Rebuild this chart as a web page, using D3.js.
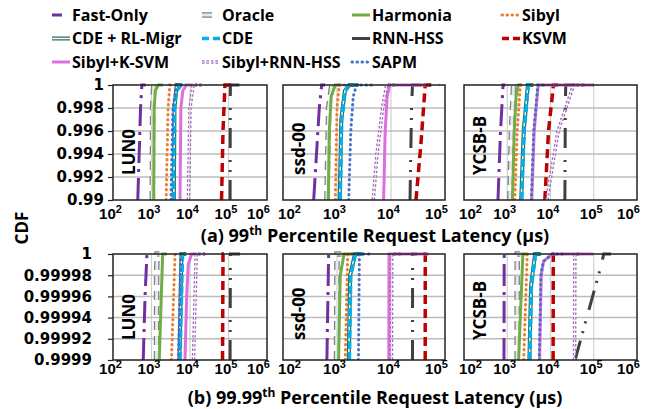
<!DOCTYPE html>
<html>
<head>
<meta charset="utf-8">
<script src="https://cdn.jsdelivr.net/npm/d3@7"></script>
<style>
body { margin: 0; background: #fff; }
svg { font-family: "Open Sans", "Lato", sans-serif; font-weight: bold; }
</style>
</head>
<body>
<script>
const seriesNames = ["Fast-Only", "Oracle", "Harmonia", "Sibyl", "CDE + RL-Migr", "CDE",
  "RNN-HSS", "KSVM", "Sibyl+K-SVM", "Sibyl+RNN-HSS", "SAPM"];
const workloads = ["LUN0", "ssd-00", "YCSB-B"];
const xDomains = [[1e2, 1e6], [1e2, 1e5], [1e2, 1e6]];
const cdfTicksA = [0.99, 0.992, 0.994, 0.996, 0.998, 1];
const cdfLabelsA = ["0.99", "0.992", "0.994", "0.996", "0.998", "1"];
const cdfTicksB = [0.9999, 0.99992, 0.99994, 0.99996, 0.99998, 1];
const cdfLabelsB = ["0.9999", "0.99992", "0.99994", "0.99996", "0.99998", "1"];

// [latency us, cdf] points, one list per series (same order as seriesNames)
const lun0P99 = [
  [[440, 0.99], [520, 0.998], [560, 1], [700, 1]],
  [[1050, 0.99], [1070, 0.998], [1150, 1], [1300, 1]],
  [[1140, 0.99], [1170, 0.998], [1260, 0.9995], [1500, 1], [2000, 1]],
  [[2400, 0.99], [2700, 0.998], [3000, 1], [3500, 1]],
  [[3800, 0.99], [3950, 0.998], [4500, 1], [6000, 1]],
  [[3700, 0.99], [3900, 0.998], [4500, 0.9995], [6000, 1], [8000, 1]],
  [[110000, 0.99], [111000, 0.998], [112000, 1], [200000, 1]],
  [[66000, 0.99], [72000, 0.996], [81000, 1], [150000, 1]],
  [[5500, 0.99], [5800, 0.998], [6500, 0.9995], [8100, 1], [12000, 1]],
  [[9100, 0.99], [10000, 0.998], [12000, 1], [20000, 1]],
  [[3200, 0.99], [3600, 0.998], [4500, 1], [6000, 1]]
];
const ssd00P99 = [
  [[370, 0.99], [470, 0.998], [520, 1], [600, 1]],
  [[650, 0.99], [700, 0.998], [800, 1], [900, 1]],
  [[690, 0.99], [720, 0.996], [780, 0.999], [930, 1], [1200, 1]],
  [[930, 0.99], [1000, 0.998], [1100, 1], [1400, 1]],
  [[1120, 0.99], [1200, 0.997], [1400, 0.9995], [1700, 1], [2500, 1]],
  [[1150, 0.99], [1220, 0.997], [1400, 0.9995], [1650, 1], [2500, 1]],
  [[22500, 0.99], [24000, 0.998], [25000, 1], [80000, 1]],
  [[29000, 0.99], [36000, 0.995], [43000, 1], [60000, 1]],
  [[7300, 0.99], [7800, 0.996], [8500, 0.999], [9500, 1], [45000, 1]],
  [[4700, 0.99], [5500, 0.994], [7000, 0.998], [8300, 1], [12000, 1]],
  [[1650, 0.99], [1800, 0.996], [2000, 0.999], [2300, 1], [5000, 1]]
];
const ycsbP99 = [
  [[610, 0.99], [700, 0.996], [800, 1], [900, 1]],
  [[1150, 0.99], [1250, 0.996], [1400, 1], [1600, 1]],
  [[1320, 0.99], [1450, 0.996], [1600, 0.999], [1800, 1], [2200, 1]],
  [[1500, 0.99], [1700, 0.996], [2000, 1], [2500, 1]],
  [[2100, 0.99], [2400, 0.996], [3000, 1], [4000, 1]],
  [[2150, 0.99], [2450, 0.996], [3050, 1], [4000, 1]],
  [[21500, 0.99], [22000, 0.998], [22500, 1], [100000, 1]],
  [[7400, 0.99], [9000, 0.996], [11700, 1], [15000, 1]],
  [[3700, 0.99], [4200, 0.996], [5200, 1], [100000, 1]],
  [[8200, 0.99], [15000, 0.996], [34000, 1], [60000, 1]],
  [[3600, 0.99], [4100, 0.996], [5100, 1], [8000, 1]]
];
const lun0P9999 = [
  [[610, 0.9999], [680, 0.99996], [740, 0.99999], [760, 1], [900, 1]],
  [[1350, 0.9999], [1360, 0.99998], [1400, 1], [1600, 1]],
  [[1590, 0.9999], [1950, 1], [2500, 1]],
  [[3300, 0.9999], [4100, 1], [5000, 1]],
  [[5300, 0.9999], [6000, 1], [8000, 1]],
  [[5500, 0.9999], [6400, 1], [8000, 1]],
  [[110000, 0.9999], [112000, 1], [200000, 1]],
  [[70000, 0.9999], [72000, 1], [100000, 1]],
  [[7400, 0.9999], [8200, 0.99996], [9000, 0.99999], [11000, 1], [15000, 1]],
  [[12300, 0.9999], [14500, 1], [25000, 1]],
  [[5000, 0.9999], [5800, 1], [7000, 1]]
];
const ssd00P9999 = [
  [[650, 0.9999], [700, 1], [800, 1]],
  [[980, 0.9999], [1000, 1], [1200, 1]],
  [[1070, 0.9999], [1150, 0.99998], [1350, 1], [2000, 1]],
  [[1420, 0.9999], [1580, 1], [2000, 1]],
  [[1650, 0.9999], [1750, 0.99998], [2150, 1], [3000, 1]],
  [[1700, 0.9999], [1800, 0.99998], [2200, 1], [3000, 1]],
  [[25000, 0.9999], [25100, 1], [30000, 1]],
  [[43000, 0.9999], [43100, 1], [50000, 1]],
  [[9100, 0.9999], [9200, 1], [50000, 1]],
  [[10200, 0.9999], [10300, 1], [15000, 1]],
  [[2500, 0.9999], [2600, 1], [4000, 1]]
];
const ycsbP9999 = [
  [[840, 0.9999], [850, 1], [1000, 1]],
  [[1690, 0.9999], [1700, 1], [2000, 1]],
  [[1830, 0.9999], [2300, 1], [3000, 1]],
  [[2400, 0.9999], [2900, 1], [3500, 1]],
  [[3250, 0.9999], [3550, 0.99997], [4400, 1], [6000, 1]],
  [[3300, 0.9999], [3600, 0.99997], [4500, 1], [6000, 1]],
  [[37000, 0.9999], [150000, 0.99999], [170000, 1], [250000, 1]],
  [[11500, 0.9999], [11600, 1], [15000, 1]],
  [[5600, 0.9999], [6100, 0.99998], [6900, 0.999993], [11000, 1], [100000, 1]],
  [[36000, 0.9999], [36500, 1], [50000, 1]],
  [[5500, 0.9999], [6000, 0.99998], [6800, 0.999993], [11000, 1], [20000, 1]]
];

const look = {
  "Fast-Only":     { color: "#7030A0", w: 3,   dash: "22,6,3,6", key: "10,20" },
  "Oracle":        { color: "#808080", w: 5.5, dash: "9,6", inner: 3, innerColor: "#e6eaee", key: "10,20" },
  "Harmonia":      { color: "#70AD47", w: 3 },
  "Sibyl":         { color: "#ED7D31", w: 3,   dash: "0.5,4.5", cap: "round" },
  "CDE + RL-Migr": { color: "#2E6E4E", w: 4,   inner: 1.5 },
  "CDE":           { color: "#00B0F0", w: 3.5, dash: "8,3", key: "7,4" },
  "RNN-HSS":       { color: "#404040", w: 3,   dash: "20,8,2,8,2,12" },
  "KSVM":          { color: "#C00000", w: 3.5, dash: "9,5", key: "7,4" },
  "Sibyl+K-SVM":   { color: "#DD6EDD", w: 3 },
  "Sibyl+RNN-HSS": { color: "#A066B8", w: 3.5, dash: "2.5,2", inner: 1 },
  "SAPM":          { color: "#4472C4", w: 3,   dash: "0.5,4.5", cap: "round" }
};

const width = 665, height = 409;
const svg = d3.select("body").append("svg")
  .attr("width", width)
  .attr("height", height);

const panelX = [[113, 267], [283, 445], [464, 637]];
const rows = [
  { y: [85, 200], ticks: cdfTicksA, labels: cdfLabelsA, pad: 4, xPad: 8, tagBase: 175,
    data: [lun0P99, ssd00P99, ycsbP99], tag: "(a) 99", titleY: 242 },
  { y: [254, 360], ticks: cdfTicksB, labels: cdfLabelsB, pad: 16, xPad: 3, tagBase: 340,
    data: [lun0P9999, ssd00P9999, ycsbP9999], tag: "(b) 99.99", titleY: 404 }
];

function strokeLine(sel, st, useKey) {
  const dash = useKey && st.key !== undefined ? st.key : st.dash;
  sel.attr("fill", "none")
    .attr("stroke", st.color)
    .attr("stroke-width", st.w)
    .attr("stroke-linecap", st.cap || "butt")
    .attr("stroke-dasharray", dash || null);
}

rows.forEach((row, ri) => {
  const y = d3.scaleLinear().domain([row.ticks[0], 1]).range([row.y[1], row.y[0]]);
  workloads.forEach((wl, pi) => {
    const [x0, x1] = panelX[pi];
    const x = d3.scaleLog().domain(xDomains[pi]).range([x0, x1]);
    const decades = d3.range(Math.log10(xDomains[pi][0]), Math.log10(xDomains[pi][1]) + 1).map(e => Math.pow(10, e));
    const g = svg.append("g");

    // grid
    g.selectAll(".vg").data(decades.slice(1, -1)).enter().append("line")
      .attr("x1", d => x(d)).attr("x2", d => x(d))
      .attr("y1", row.y[0]).attr("y2", row.y[1])
      .attr("stroke", "#d0d0d0").attr("stroke-width", 1.2);
    g.selectAll(".hg").data(row.ticks.slice(1, -1)).enter().append("line")
      .attr("x1", x0).attr("x2", x1)
      .attr("y1", d => y(d)).attr("y2", d => y(d))
      .attr("stroke", "#bcbcbc").attr("stroke-width", 1.5);

    // series
    const clipId = "clip" + ri + pi;
    svg.append("clipPath").attr("id", clipId).append("rect")
      .attr("x", x0).attr("y", row.y[0] - 3)
      .attr("width", x1 - x0).attr("height", row.y[1] - row.y[0] + 3);
    const line = d3.line().x(d => x(d[0])).y(d => y(d[1]));
    const sg = g.append("g").attr("clip-path", `url(#${clipId})`);
    row.data[pi].forEach((pts, si) => {
      const st = look[seriesNames[si]];
      sg.append("path").attr("d", line(pts)).call(strokeLine, st, false);
      if (st.inner) {
        sg.append("path").attr("d", line(pts))
          .attr("fill", "none").attr("stroke", st.innerColor || "#fff")
          .attr("stroke-width", st.inner)
          .attr("stroke-dasharray", st.dash || null);
      }
    });

    // frame
    g.append("rect").attr("x", x0).attr("y", row.y[0])
      .attr("width", x1 - x0).attr("height", row.y[1] - row.y[0])
      .attr("fill", "none").attr("stroke", "#222").attr("stroke-width", 1.5);

    // x axis
    const last = decades.length - 1;
    const xa = g.append("g").attr("transform", `translate(0,${row.y[1]})`)
      .call(d3.axisBottom(x).tickValues(decades).tickSize(0).tickPadding(row.xPad).tickFormat(""));
    xa.select(".domain").remove();
    xa.selectAll(".tick text").each(function(d, i) {
      let shift = -3;
      if (i === last) shift = -9;
      if (i === 0 && pi > 0) shift = 6;
      const t = d3.select(this).attr("font-size", 15).attr("font-family", null)
        .attr("fill", "#000").attr("x", shift);
      t.append("tspan").text("10");
      t.append("tspan").attr("dy", -6).attr("font-size", 11).text(Math.round(Math.log10(d)));
    });

    // y axis on first panel
    if (pi === 0) {
      const ya = g.append("g").attr("transform", `translate(${x0},0)`)
        .call(d3.axisLeft(y).tickValues(row.ticks).tickSize(5).tickPadding(row.pad)
          .tickFormat((d, i) => row.labels[i]));
      ya.select(".domain").remove();
      ya.selectAll(".tick line").attr("stroke", "#222").attr("stroke-width", 1.2);
      ya.selectAll(".tick text").attr("font-size", 15)
        .attr("font-family", "'DejaVu Sans', sans-serif").attr("fill", "#000");
    }

    // workload tag
    g.append("text")
      .attr("transform", `translate(${x0 + 22},${row.tagBase}) rotate(-90)`)
      .attr("text-anchor", "start")
      .attr("font-size", 17)
      .text(wl);
  });

  const title = svg.append("text")
    .attr("x", 375).attr("y", row.titleY)
    .attr("text-anchor", "middle")
    .attr("font-size", 18);
  title.append("tspan").text(row.tag);
  title.append("tspan").attr("dy", -7).attr("font-size", 12).text("th");
  title.append("tspan").attr("dy", 7).text(" Percentile Request Latency (\u03bcs)");
});

svg.append("text")
  .attr("transform", "translate(28,228) rotate(-90)")
  .attr("text-anchor", "middle")
  .attr("font-size", 17)
  .text("CDF");

// legend
const legend = svg.append("g");
seriesNames.forEach((name, i) => {
  const st = look[name];
  const lx = 52 + (i % 4) * 150;
  const ly = 15 + Math.floor(i / 4) * 23.5;
  legend.append("line").attr("x1", lx).attr("x2", lx + 18)
    .attr("y1", ly).attr("y2", ly).call(strokeLine, st, true);
  if (st.inner) {
    legend.append("line").attr("x1", lx).attr("x2", lx + 18)
      .attr("y1", ly).attr("y2", ly)
      .attr("stroke", st.innerColor || "#fff").attr("stroke-width", st.inner)
      .attr("stroke-dasharray", st.key || st.dash || null);
  }
  legend.append("text").attr("x", lx + 20).attr("y", ly)
    .attr("dy", "0.35em").attr("font-size", 16).text(name);
});
</script>
</body>
</html>
